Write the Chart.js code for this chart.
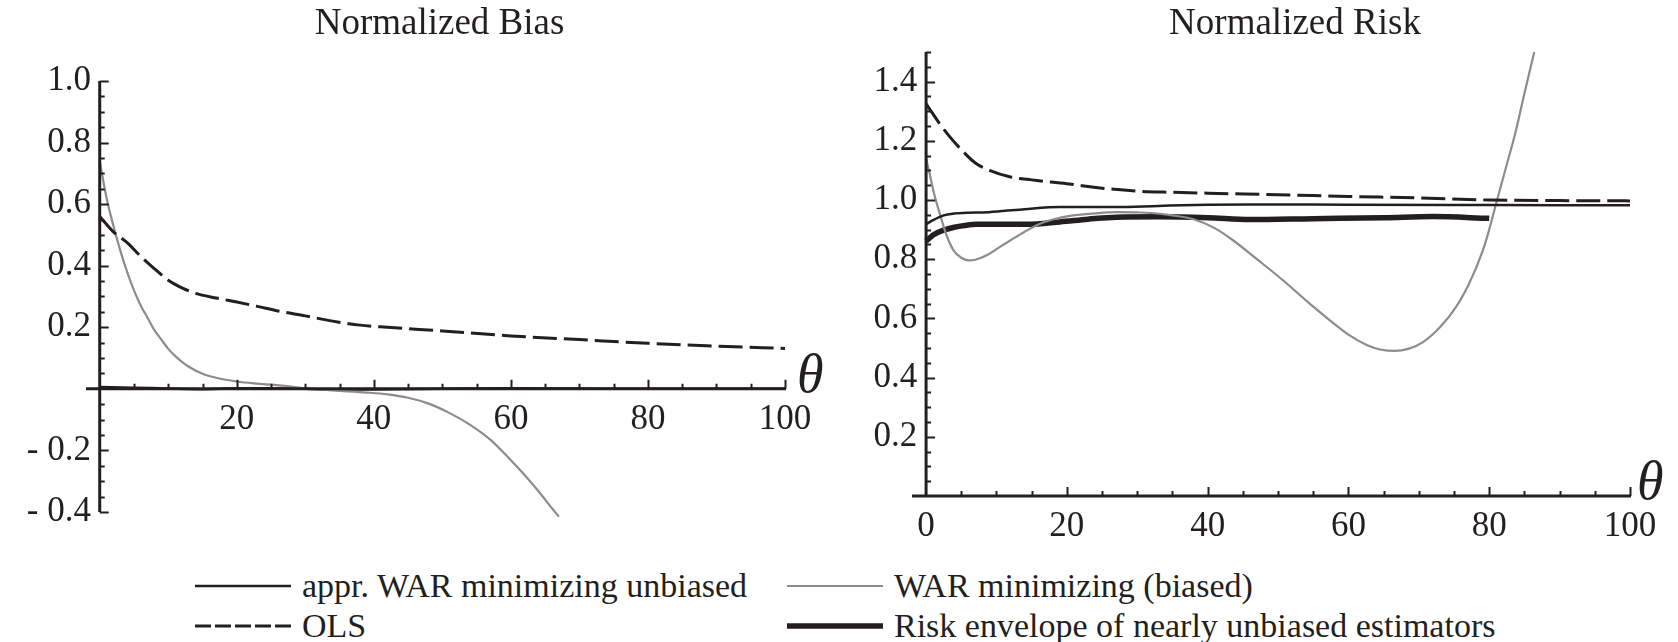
<!DOCTYPE html>
<html>
<head>
<meta charset="utf-8">
<script src="https://cdn.jsdelivr.net/npm/chart.js@4.4.1/dist/chart.umd.min.js"></script>
<style>
  html, body { margin: 0; padding: 0; background: #fff; width: 1678px; height: 642px; overflow: hidden; }
  #biasBox { position: absolute; left: 0; top: 0; width: 840px; height: 560px; }
  #riskBox { position: absolute; left: 840px; top: 0; width: 838px; height: 560px; }
  .key { position: absolute; height: 40px; display: flex; align-items: center; white-space: nowrap;
         font-family: "Liberation Serif", serif; font-size: 34px; color: #231f20; }
  .key svg { margin-right: 11px; flex: none; }
</style>
</head>
<body>
<div id="biasBox"><canvas id="biasChart"></canvas></div>
<div id="riskBox"><canvas id="riskChart"></canvas></div>
<div id="legend"></div>
<script>
// ---- Normalized bias panel ----
const biasOlsTheta = [0, 2, 4, 6, 8, 10, 12, 14, 17, 20, 23, 26, 30, 34, 38, 42, 50, 60, 70, 80, 90, 100];
const biasOls      = [0.56, 0.51, 0.475, 0.43, 0.39, 0.353, 0.328, 0.31, 0.295, 0.282, 0.268, 0.253, 0.237, 0.22, 0.207, 0.2, 0.188, 0.172, 0.16, 0.148, 0.139, 0.131];

const biasWarTheta = [0, 1, 2, 3, 4, 5, 6, 7, 8, 9, 10, 11, 12, 13, 15, 17, 20, 23, 27, 30, 34, 39, 42, 45, 48, 51, 54, 57, 60, 62, 64, 66, 67];
const biasWar      = [0.74, 0.62, 0.53, 0.45, 0.38, 0.32, 0.27, 0.23, 0.19, 0.16, 0.13, 0.107, 0.088, 0.072, 0.049, 0.036, 0.024, 0.017, 0.01, 0.002, -0.005, -0.012, -0.018, -0.029, -0.048, -0.078, -0.116, -0.165, -0.232, -0.28, -0.332, -0.388, -0.415];

const biasUnbTheta = [0, 5, 10, 15, 20, 25, 30, 35, 40, 50, 60, 70, 80, 90, 100];
const biasUnb      = [0.006, 0.004, 0.001, -0.001, 0.002, 0.002, 0.0, -0.003, -0.002, 0.0, 0.002, 0.001, 0.0, 0.0, 0.0];

const biasXTicks = [20, 40, 60, 80, 100];
const biasYTicks = [-0.4, -0.2, 0.2, 0.4, 0.6, 0.8, 1.0];

// ---- Normalized risk panel ----
const riskOlsTheta = [0, 1, 2, 3.5, 5, 7, 9, 12, 15, 20, 25, 30, 35, 40, 50, 60, 70, 80, 90, 100];
const riskOls      = [1.325, 1.29, 1.255, 1.21, 1.17, 1.125, 1.1, 1.078, 1.068, 1.055, 1.04, 1.03, 1.026, 1.023, 1.018, 1.012, 1.007, 1.0, 0.998, 0.997];

const riskUnbTheta = [0, 1, 2.5, 4, 6, 8, 10.5, 14, 19, 23, 27, 33, 40, 46, 60, 80, 100];
const riskUnb      = [0.918, 0.932, 0.948, 0.954, 0.957, 0.958, 0.962, 0.969, 0.976, 0.976, 0.976, 0.98, 0.984, 0.985, 0.984, 0.983, 0.982];

const riskEnvTheta = [0, 1, 2.5, 4, 5.5, 7.2, 10, 14.3, 19, 23, 27, 33, 40, 46, 55, 65, 72, 80];
const riskEnv      = [0.861, 0.882, 0.898, 0.908, 0.914, 0.918, 0.918, 0.918, 0.926, 0.935, 0.942, 0.943, 0.94, 0.934, 0.937, 0.94, 0.944, 0.938];

const riskWarTheta = [0, 0.5, 1, 1.5, 2, 2.5, 3, 3.9, 5, 6, 7, 8.6, 10, 12, 14, 16.2, 18, 20.9, 24, 27, 30, 32, 35, 38, 41, 43.6, 47, 50.7, 54, 57.8, 60, 62.6, 64.5, 66.6, 68.5, 70.6, 73, 75.3, 77, 79.1, 80, 81, 82.5, 83.8, 85, 86.4];
const riskWar      = [1.14, 1.09, 1.035, 0.99, 0.95, 0.91, 0.875, 0.83, 0.805, 0.796, 0.798, 0.813, 0.834, 0.864, 0.893, 0.92, 0.934, 0.948, 0.955, 0.959, 0.958, 0.956, 0.948, 0.935, 0.905, 0.864, 0.8, 0.729, 0.66, 0.585, 0.545, 0.51, 0.495, 0.49, 0.497, 0.52, 0.57, 0.639, 0.71, 0.83, 0.9, 0.99, 1.12, 1.235, 1.36, 1.5];

const riskXTicks = [0, 20, 40, 60, 80, 100];
const riskYTicks = [0.2, 0.4, 0.6, 0.8, 1.0, 1.2, 1.4];

// ---- styling ----
const INK = '#231f20';
const GREY = '#8c8c8c';
const SERIF = '"Liberation Serif", "Times New Roman", serif';

const seriesStyle = {
  unbiased: { label: 'appr. WAR minimizing unbiased', borderColor: INK, borderWidth: 2.5, borderDash: [] },
  ols:      { label: 'OLS', borderColor: INK, borderWidth: 3, borderDash: [24, 7] },
  war:      { label: 'WAR minimizing (biased)', borderColor: GREY, borderWidth: 2.2, borderDash: [] },
  envelope: { label: 'Risk envelope of nearly unbiased estimators', borderColor: INK, borderWidth: 5.5, borderDash: [] }
};

function pts(xs, ys) { return xs.map((x, i) => ({ x: x, y: ys[i] })); }

function series(key, xs, ys) {
  const s = seriesStyle[key];
  return {
    label: s.label, data: pts(xs, ys), borderColor: s.borderColor, borderWidth: s.borderWidth,
    borderDash: s.borderDash, pointRadius: 0, fill: false, cubicInterpolationMode: 'monotone',
    borderCapStyle: 'butt', clip: false
  };
}

// y labels sit left of an axis drawn at theta = 0; a trailing space keeps them off the line
function fmt(v) {
  if (Math.abs(v) < 1e-9) return '';
  const t = v < 0 ? '- ' + Math.abs(v).toFixed(1) : v.toFixed(1);
  return t + '\u2005';
}

// Axis lines, inward major/minor tick marks, the theta label and the panel title.
const axisPainter = {
  id: 'axisPainter',
  afterDatasetsDraw(chart, args, o) {
    const ctx = chart.ctx;
    const xs = chart.scales.x, ys = chart.scales.y;
    const x0 = xs.getPixelForValue(0), y0 = ys.getPixelForValue(0);
    ctx.save();
    ctx.strokeStyle = INK;
    ctx.lineCap = 'butt';
    ctx.lineWidth = 3;
    ctx.beginPath();
    ctx.moveTo(xs.left, y0); ctx.lineTo(xs.right + 1, y0);
    ctx.moveTo(x0, ys.top); ctx.lineTo(x0, ys.bottom);
    ctx.stroke();

    ctx.lineWidth = 2;
    ctx.beginPath();
    const isMajor = (v, step) => Math.abs(v / step - Math.round(v / step)) < 1e-6;
    for (let i = Math.ceil(ys.min / o.yMinor - 1e-9); i * o.yMinor <= ys.max + 1e-9; i++) {
      const v = i * o.yMinor;
      if (Math.abs(v) < 1e-9) continue;
      const p = Math.round(ys.getPixelForValue(v)) + 0.5;
      ctx.moveTo(x0, p); ctx.lineTo(x0 + (isMajor(v, o.yMajor) ? 9 : 5), p);
    }
    for (let i = 1; i * o.xMinor <= xs.max + 1e-9; i++) {
      const v = i * o.xMinor;
      const p = Math.round(xs.getPixelForValue(v)) + 0.5;
      ctx.moveTo(p, y0); ctx.lineTo(p, y0 - (isMajor(v, o.xMajor) ? 9 : 5));
    }
    ctx.stroke();

    ctx.fillStyle = INK;
    ctx.font = 'italic 54px ' + SERIF;
    ctx.textAlign = 'left';
    ctx.textBaseline = 'alphabetic';
    ctx.fillText('θ', xs.right + o.thetaDx, y0 + 3);

    ctx.font = '37px ' + SERIF;
    ctx.textAlign = 'center';
    ctx.textBaseline = 'middle';
    ctx.fillText(o.title, (chart.chartArea.left + chart.chartArea.right) / 2 + o.titleDx, 24);
    ctx.restore();
  }
};

function makeScales(xMin, xMax, yMin, yMax, xTicks, yTicks) {
  const tickFont = { family: SERIF, size: 35 };
  return {
    x: {
      type: 'linear', min: xMin, max: xMax, position: { y: 0 },
      grid: { display: false, drawTicks: false }, border: { display: false },
      afterBuildTicks: s => { s.ticks = xTicks.map(v => ({ value: v })); },
      afterFit: s => { s.height = 0; },
      ticks: { autoSkip: false, maxRotation: 0, padding: 10, font: tickFont, color: INK, callback: v => String(v) }
    },
    y: {
      type: 'linear', min: yMin, max: yMax, position: { x: 0 },
      grid: { display: false, drawTicks: false }, border: { display: false },
      afterBuildTicks: s => { s.ticks = yTicks.map(v => ({ value: v })); },
      afterFit: s => { s.width = 0; },
      ticks: { autoSkip: false, padding: 10, font: tickFont, color: INK, callback: v => fmt(v) }
    }
  };
}

Chart.defaults.font.family = SERIF;

new Chart(document.getElementById('biasChart'), {
  type: 'line',
  data: {
    datasets: [
      series('ols', biasOlsTheta, biasOls),
      series('war', biasWarTheta, biasWar),
      series('unbiased', biasUnbTheta, biasUnb)
    ]
  },
  options: {
    responsive: true, maintainAspectRatio: false, animation: false,
    layout: { padding: { left: 86, right: 55, top: 81, bottom: 48 } },
    plugins: {
      legend: { display: false }, tooltip: { enabled: false }, title: { display: false },
      axisPainter: { title: 'Normalized Bias', titleDx: 4, thetaDx: 12, xMinor: 5, xMajor: 20, yMinor: 0.05, yMajor: 0.2 }
    },
    scales: makeScales(-2, 100, -0.4, 1.0, biasXTicks, biasYTicks)
  },
  plugins: [axisPainter]
});

new Chart(document.getElementById('riskChart'), {
  type: 'line',
  data: {
    datasets: [
      series('ols', riskOlsTheta, riskOls),
      series('unbiased', riskUnbTheta, riskUnb),
      series('war', riskWarTheta, riskWar),
      series('envelope', riskEnvTheta, riskEnv)
    ]
  },
  options: {
    responsive: true, maintainAspectRatio: false, animation: false,
    layout: { padding: { left: 72, right: 48, top: 52, bottom: 64 } },
    plugins: {
      legend: { display: false }, tooltip: { enabled: false }, title: { display: false },
      axisPainter: { title: 'Normalized Risk', titleDx: 24, thetaDx: 7, xMinor: 5, xMajor: 20, yMinor: 0.05, yMajor: 0.2 }
    },
    scales: makeScales(-2, 100, 0, 1.5, riskXTicks, riskYTicks)
  },
  plugins: [axisPainter]
});

// Legend: two columns of line samples with their labels.
const legendEntries = [
  { key: 'unbiased', left: 195, top: 566 },
  { key: 'ols',      left: 195, top: 606 },
  { key: 'war',      left: 787, top: 566 },
  { key: 'envelope', left: 787, top: 606 }
];
const legendBox = document.getElementById('legend');
legendEntries.forEach(e => {
  const s = seriesStyle[e.key];
  const div = document.createElement('div');
  div.className = 'key';
  div.style.left = e.left + 'px';
  div.style.top = e.top + 'px';
  const dash = e.key === 'ols' ? ' stroke-dasharray="16 4"' : '';
  div.innerHTML = '<svg width="96" height="12"><line x1="0" y1="6" x2="96" y2="6" stroke="' + s.borderColor +
    '" stroke-width="' + s.borderWidth + '"' + dash + '/></svg><span></span>';
  div.querySelector('span').textContent = s.label;
  legendBox.appendChild(div);
});
</script>
</body>
</html>
